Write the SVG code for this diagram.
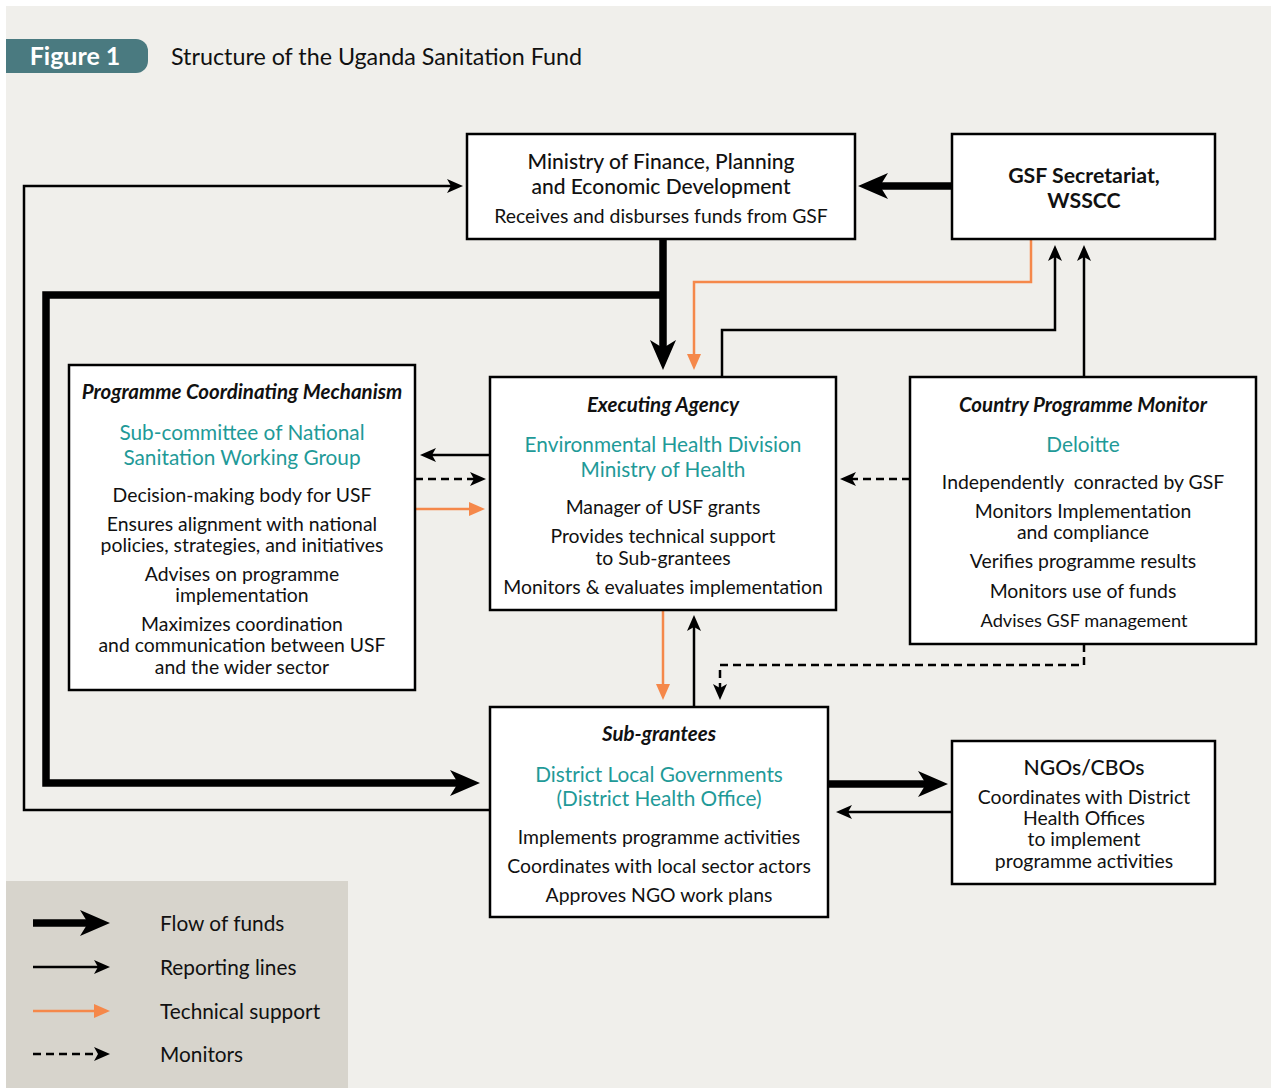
<svg xmlns="http://www.w3.org/2000/svg" width="1277" height="1088" viewBox="0 0 1277 1088">
<defs>
<marker id="mFund" markerUnits="userSpaceOnUse" markerWidth="30" markerHeight="26" refX="8" refY="13" orient="auto"><path d="M0,0 L30,13 L0,26 L8,13 Z" fill="#000"/></marker>
<marker id="mRep" markerUnits="userSpaceOnUse" markerWidth="16" markerHeight="14" refX="4" refY="7" orient="auto"><path d="M0,0 L16,7 L0,14 L4,7 Z" fill="#000"/></marker>
<marker id="mTech" markerUnits="userSpaceOnUse" markerWidth="16" markerHeight="14" refX="2" refY="7" orient="auto"><path d="M0,0 L16,7 L0,14 Z" fill="#f5884a"/></marker>
</defs>
<style>
text{font-family:Lato,"Open Sans","Liberation Sans",sans-serif;fill:#111;}
.box{fill:#fff;stroke:#000;stroke-width:2.5;}
.t{font-size:21px;font-weight:500;text-anchor:middle;}
.h{font-size:20.5px;font-weight:bold;font-style:italic;text-anchor:middle;}
.b{font-size:19.4px;text-anchor:middle;}
.teal{font-size:20.8px;text-anchor:middle;fill:#1f9a98;}
.fund{fill:none;stroke:#000;stroke-width:7.5;marker-end:url(#mFund);}
.rep{fill:none;stroke:#000;stroke-width:2.5;marker-end:url(#mRep);}
.tech{fill:none;stroke:#f5884a;stroke-width:2.5;marker-end:url(#mTech);}
.mon{fill:none;stroke:#000;stroke-width:2.5;stroke-dasharray:8,5;marker-end:url(#mRep);}
.leg{font-size:20.8px;}
</style>
<rect x="0" y="0" width="1277" height="1088" fill="#fff"/>
<rect x="6" y="6" width="1265" height="1082" fill="#f0efeb"/>
<g id="title">
<path d="M6,39 H136 A12,12 0 0 1 148,51 V61 A12,12 0 0 1 136,73 H6 Z" fill="#4a7a80"/>
<text x="75" y="65" style="font-size:25px;font-weight:bold;fill:#fff;text-anchor:middle;">Figure 1</text>
<text x="171" y="65" style="font-size:23.3px;">Structure of the Uganda Sanitation Fund</text>
</g>
<g id="legend">
<rect x="6" y="881" width="342" height="207" fill="#d7d4cc"/>
<path class="fund" d="M33,923 H88"/>
<path class="rep" d="M33,967 H98"/>
<path class="tech" d="M33,1011 H96"/>
<path class="mon" d="M33,1054 H98"/>
<text class="leg" x="160" y="931">Flow of funds</text>
<text class="leg" x="160" y="975">Reporting lines</text>
<text class="leg" x="160" y="1019">Technical support</text>
<text class="leg" x="160" y="1062">Monitors</text>
</g>
<g id="connectors">
<path class="fund" d="M952,186 H880"/>
<path class="fund" d="M663,239 V348"/>
<path class="fund" d="M663,295 H46 V783 H458"/>
<path class="rep" d="M490,810 H24 V186 H451"/>
<path class="tech" d="M1031,239 V282 H694 V356"/>
<path class="rep" d="M722,377 V330 H1055 V257"/>
<path class="rep" d="M1084,377 V257"/>
<path class="rep" d="M490,455 H432"/>
<path class="mon" d="M415,479 H474"/>
<path class="tech" d="M415,509 H471"/>
<path class="mon" d="M910,479 H852"/>
<path class="tech" d="M663,610 V686"/>
<path class="rep" d="M694,707 V627"/>
<path class="mon" d="M1084,644 V665 H720 V688"/>
<path class="fund" d="M828,784 H926"/>
<path class="rep" d="M952,812 H848"/>
</g>
<g id="ministry">
<rect class="box" x="467" y="134" width="388" height="105"/>
<text class="t" x="661" y="169">Ministry of Finance, Planning</text>
<text class="t" x="661" y="194">and Economic Development</text>
<text class="b" x="661" y="223">Receives and disburses funds from GSF</text>
</g>
<g id="gsf">
<rect class="box" x="952" y="134" width="263" height="105"/>
<text class="t" x="1084" y="183" style="font-weight:bold;font-size:21.3px;">GSF Secretariat,</text>
<text class="t" x="1084" y="208" style="font-weight:bold;font-size:21.3px;">WSSCC</text>
</g>
<g id="pcm">
<rect class="box" x="69" y="365" width="346" height="325"/>
<text class="h" x="242" y="399">Programme Coordinating Mechanism</text>
<text class="teal" x="242" y="440">Sub-committee of National</text>
<text class="teal" x="242" y="465">Sanitation Working Group</text>
<text class="b" x="242" y="502">Decision-making body for USF</text>
<text class="b" x="242" y="531">Ensures alignment with national</text>
<text class="b" x="242" y="552">policies, strategies, and initiatives</text>
<text class="b" x="242" y="581">Advises on programme</text>
<text class="b" x="242" y="602">implementation</text>
<text class="b" x="242" y="631">Maximizes coordination</text>
<text class="b" x="242" y="652">and communication between USF</text>
<text class="b" x="242" y="674">and the wider sector</text>
</g>
<g id="exec">
<rect class="box" x="490" y="377" width="346" height="233"/>
<text class="h" x="663" y="412">Executing Agency</text>
<text class="teal" x="663" y="452">Environmental Health Division</text>
<text class="teal" x="663" y="477">Ministry of Health</text>
<text class="b" x="663" y="514">Manager of USF grants</text>
<text class="b" x="663" y="543">Provides technical support</text>
<text class="b" x="663" y="565">to Sub-grantees</text>
<text class="b" x="663" y="594">Monitors &amp; evaluates implementation</text>
</g>
<g id="cpm">
<rect class="box" x="910" y="377" width="346" height="267"/>
<text class="h" x="1083" y="412">Country Programme Monitor</text>
<text class="teal" x="1083" y="452">Deloitte</text>
<text class="b" x="1083" y="489" style="white-space:pre;">Independently  conracted by GSF</text>
<text class="b" x="1083" y="518">Monitors Implementation</text>
<text class="b" x="1083" y="539">and compliance</text>
<text class="b" x="1083" y="568">Verifies programme results</text>
<text class="b" x="1083" y="598">Monitors use of funds</text>
<text class="b" x="1084" y="627" style="font-size:18.2px;">Advises GSF management</text>
</g>
<g id="sub">
<rect class="box" x="490" y="707" width="338" height="210"/>
<text class="h" x="659" y="741">Sub-grantees</text>
<text class="teal" x="659" y="782">District Local Governments</text>
<text class="teal" x="659" y="806">(District Health Office)</text>
<text class="b" x="659" y="844">Implements programme activities</text>
<text class="b" x="659" y="873">Coordinates with local sector actors</text>
<text class="b" x="659" y="902">Approves NGO work plans</text>
</g>
<g id="ngo">
<rect class="box" x="952" y="741" width="263" height="143"/>
<text class="t" x="1084" y="775" style="font-size:21.2px;">NGOs/CBOs</text>
<text class="b" x="1084" y="804">Coordinates with District</text>
<text class="b" x="1084" y="825">Health Offices</text>
<text class="b" x="1084" y="846">to implement</text>
<text class="b" x="1084" y="868">programme activities</text>
</g>
</svg>
